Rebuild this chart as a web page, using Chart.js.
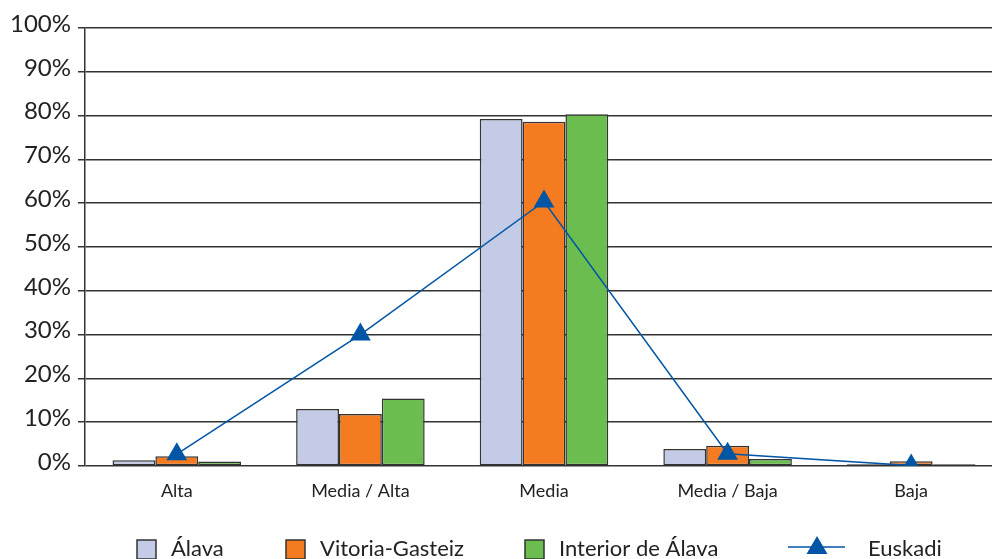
<!DOCTYPE html>
<html>
<head>
<meta charset="utf-8">
<script src="https://cdn.jsdelivr.net/npm/chart.js@4.4.1/dist/chart.umd.min.js"></script>
<style>
  html, body { margin: 0; padding: 0; background: #fff; overflow: hidden; }
  #wrap { position: relative; width: 992px; height: 559px; }
</style>
</head>
<body>
<div id="wrap"><canvas id="chart"></canvas></div>
<script>
const categories = ['Alta', 'Media / Alta', 'Media', 'Media / Baja', 'Baja'];
const alava = [1.3, 13.0, 79.2, 3.9, 0.4];
const vitoria = [2.2, 11.9, 78.6, 4.6, 1.1];
const interior = [1.0, 15.4, 80.3, 1.6, 0.4];
const euskadi = [2.7, 30.0, 60.4, 2.8, 0.1];
const yTicks = [0, 10, 20, 30, 40, 50, 60, 70, 80, 90, 100];

const colors = {
  alava: '#C3CBE6',
  vitoria: '#F47B20',
  interior: '#6CBD4F',
  euskadi: '#0055A5',
  edge: '#333333',
  text: '#222222'
};

// in the original the plot area runs on past the right edge of the picture
const plotRight = 1003;
const stretchPlot = {
  id: 'stretchPlot',
  afterLayout(chart) {
    const x = chart.scales.x;
    chart.chartArea.right = plotRight;
    chart.chartArea.width = plotRight - chart.chartArea.left;
    x.right = plotRight;
    x.width = plotRight - x.left;
    x.configure();
  }
};

// legend drawn on the canvas so the spacing can follow the original
const legendPlugin = {
  id: 'customLegend',
  afterDraw(chart) {
    const ctx = chart.ctx;
    const y = 549;
    ctx.save();
    ctx.font = '22px Lato';
    ctx.fillStyle = colors.text;
    ctx.textBaseline = 'middle';

    const boxes = [
      { x: 137, tx: 171, fill: colors.alava, label: 'Álava' },
      { x: 286, tx: 320, fill: colors.vitoria, label: 'Vitoria-Gasteiz' },
      { x: 525, tx: 559, fill: colors.interior, label: 'Interior de Álava' }
    ];
    boxes.forEach(b => {
      ctx.fillStyle = b.fill;
      ctx.fillRect(b.x, y - 9, 19, 19);
      ctx.strokeStyle = colors.edge;
      ctx.lineWidth = 1.5;
      ctx.strokeRect(b.x, y - 9, 19, 19);
      ctx.fillStyle = colors.text;
      ctx.fillText(b.label, b.tx, y);
    });

    // Euskadi: line with triangle
    ctx.strokeStyle = colors.euskadi;
    ctx.lineWidth = 1.5;
    ctx.beginPath();
    ctx.moveTo(788, y - 2);
    ctx.lineTo(845, y - 2);
    ctx.stroke();
    ctx.fillStyle = colors.euskadi;
    ctx.beginPath();
    ctx.moveTo(817, y - 13);
    ctx.lineTo(827.5, y + 5);
    ctx.lineTo(806.5, y + 5);
    ctx.closePath();
    ctx.fill();
    ctx.fillStyle = colors.text;
    ctx.fillText('Euskadi', 868, y);
    ctx.restore();
  }
};

function barSet(label, data, color) {
  return {
    type: 'bar',
    label,
    data,
    backgroundColor: color,
    borderColor: colors.edge,
    borderWidth: 1.5,
    borderSkipped: false,
    categoryPercentage: 0.7,
    barPercentage: 1.0,
    order: 1
  };
}

new Chart(document.getElementById('chart'), {
  data: {
    labels: categories,
    datasets: [
      barSet('Álava', alava, colors.alava),
      barSet('Vitoria-Gasteiz', vitoria, colors.vitoria),
      barSet('Interior de Álava', interior, colors.interior),
      {
        type: 'line',
        label: 'Euskadi',
        data: euskadi,
        borderColor: colors.euskadi,
        backgroundColor: colors.euskadi,
        borderWidth: 1.5,
        pointStyle: 'triangle',
        pointRadius: 12,
        pointBorderWidth: 0,
        tension: 0,
        order: 0
      }
    ]
  },
  options: {
    responsive: true,
    maintainAspectRatio: false,
    animation: false,
    layout: { padding: { top: 28, bottom: 43, left: 0, right: 0 } },
    plugins: {
      legend: { display: false },
      tooltip: { enabled: false }
    },
    scales: {
      x: {
        grid: { display: false, drawTicks: false },
        border: { display: false },
        ticks: {
          color: colors.text,
          font: { family: 'Lato', size: 18 },
          padding: 14
        },
        afterFit(scale) { scale.height = 50; }
      },
      y: {
        min: 0,
        max: 100,
        afterBuildTicks(scale) {
          scale.ticks = yTicks.map(v => ({ value: v }));
        },
        grid: {
          color: colors.edge,
          lineWidth: 1.5,
          tickLength: 7,
          drawTicks: true
        },
        border: { display: true, color: colors.edge, width: 1.5 },
        ticks: {
          color: colors.text,
          font: { family: 'Lato', size: 24 },
          padding: 7,
          labelOffset: -4,
          callback: v => v + '%'
        },
        afterFit(scale) { scale.width = 85; }
      }
    }
  },
  plugins: [stretchPlot, legendPlugin]
});
</script>
</body>
</html>
